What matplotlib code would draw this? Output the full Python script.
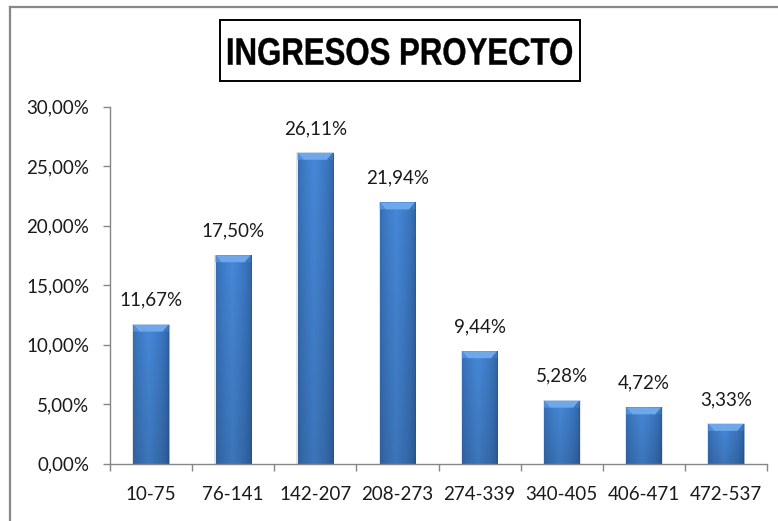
import matplotlib
matplotlib.use("Agg")
import matplotlib.pyplot as plt
import numpy as np
from matplotlib.patches import Rectangle, Polygon, PathPatch
from matplotlib.lines import Line2D
from matplotlib.textpath import TextPath
from matplotlib.font_manager import FontProperties
from matplotlib.transforms import Affine2D
from matplotlib.ticker import FixedLocator, FuncFormatter

# ── data (percent) ───────────────────────────────────────────────────────────
categories = ["10-75", "76-141", "142-207", "208-273",
              "274-339", "340-405", "406-471", "472-537"]
values     = [11.67, 17.50, 26.11, 21.94, 9.44, 5.28, 4.72, 3.33]
y_ticks    = [0, 5, 10, 15, 20, 25, 30]
title      = "INGRESOS PROYECTO"

W, H = 778, 521
fig = plt.figure(figsize=(W / 100, H / 100), dpi=100)

# axes placed in pixel terms to line up with the reference
x0, x1 = 110, 767
y0, y1 = 463.5, 106.5
ax = fig.add_axes([x0 / W, 1 - y0 / H, (x1 - x0) / W, (y0 - y1) / H])
ax.set_xlim(-0.5, len(categories) - 0.5)
ax.set_ylim(0, 30)

px_x = (len(categories)) / (x1 - x0)     # data units per pixel, x
px_y = 30 / (y0 - y1)                    # data units per pixel, y

label_font = ["Lato", "DejaVu Sans"]
grey = "#868686"

# ── bars with a cylinder-ish gradient and bevelled top ───────────────────────
BAR_W = 0.43
xs = np.arange(len(categories))
bars = ax.bar(xs, values, width=BAR_W, color="#3b78c4", zorder=2,
              edgecolor="#9fb4cf", linewidth=0.6)

dark  = np.array([0x2b, 0x5c, 0x9c]) / 255
light = np.array([0x46, 0x88, 0xd8]) / 255
u = np.linspace(0, 1, 60)
prof = np.clip(1 - np.abs(u - 0.45) / 0.55, 0, 1) ** 0.5      # horizontal shading
v = np.linspace(0, 1, 80)[:, None]                            # 0 = bottom row in image
grad = dark + (light - dark) * prof[None, :, None]
grad = grad * (0.86 + 0.14 * v[..., None])                    # a bit darker toward the base
grad = np.clip(grad, 0, 1)

for b in bars:
    bx, bw, bh = b.get_x(), b.get_width(), b.get_height()
    # soft shadow
    ax.add_patch(Rectangle((bx - 1.2 * px_x, -1 * px_y), bw + 2.4 * px_x, bh + 1.5 * px_y,
                           facecolor="#000000", alpha=0.10, lw=0, zorder=1.5))
    im = ax.imshow(grad, extent=[bx, bx + bw, 0, bh], origin="lower",
                   aspect="auto", zorder=2.1, interpolation="bilinear")
    im.set_clip_path(b)
    # bevel at the top
    bev_h = 7 * px_y
    ins = 6 * px_x
    ax.add_patch(Polygon([(bx, bh), (bx + bw, bh), (bx + bw - ins, bh - bev_h),
                          (bx + ins, bh - bev_h)], closed=True,
                         facecolor="#6ea8ea", edgecolor="none", zorder=2.2))
    ax.add_patch(Polygon([(bx, bh), (bx + ins, bh - bev_h), (bx, bh - bev_h)],
                         closed=True, facecolor="#4f8fdc", edgecolor="none", zorder=2.2))
    ax.add_patch(Polygon([(bx + bw, bh), (bx + bw - ins, bh - bev_h), (bx + bw, bh - bev_h)],
                         closed=True, facecolor="#3d77c0", edgecolor="none", zorder=2.2))

# value labels
for x, val in zip(xs, values):
    ax.annotate(f"{val:.2f}%".replace(".", ","), (x, val), xytext=(0, 17.5),
                textcoords="offset points", ha="center", va="center",
                fontsize=13.5, color="#1a1a1a", family=label_font)

# ── axes styling ─────────────────────────────────────────────────────────────
for side in ("top", "right"):
    ax.spines[side].set_visible(False)
for side in ("left", "bottom"):
    ax.spines[side].set_color(grey)
    ax.spines[side].set_linewidth(1.0)

ax.set_yticks(y_ticks)
ax.yaxis.set_major_formatter(FuncFormatter(lambda v, _: f"{v:.2f}%".replace(".", ",")))
ax.tick_params(axis="y", length=5, width=1, color=grey, pad=10,
               labelsize=13.5, labelcolor="#1a1a1a")

ax.set_xticks(xs)
ax.set_xticklabels(categories)
ax.xaxis.set_minor_locator(FixedLocator(np.arange(-0.5, len(categories), 1.0)))
ax.tick_params(axis="x", which="major", length=0, pad=16,
               labelsize=13.5, labelcolor="#1a1a1a")
ax.tick_params(axis="x", which="minor", length=5, width=1, color=grey)
for t in ax.get_xticklabels() + ax.get_yticklabels():
    t.set_family(label_font)

# ── chart frame (left + top only, rest is cropped) ───────────────────────────
fig.add_artist(Line2D([9.5 / W, 9.5 / W], [0, 1 - 6.5 / H], color="#888888",
                      lw=1.6, transform=fig.transFigure))
fig.add_artist(Line2D([9.5 / W, 1], [1 - 6.5 / H, 1 - 6.5 / H], color="#888888",
                      lw=1.6, transform=fig.transFigure))

# ── boxed title: bold text squeezed to the narrow look of the original ──────
fig.add_artist(Rectangle((220 / W, 1 - 81 / H), 360 / W, 61 / H, fill=False,
                         edgecolor="black", lw=1.4, transform=fig.transFigure))
tp = TextPath((0, 0), title, size=100,
              prop=FontProperties(family="Liberation Sans", weight="bold"))
ext = tp.get_extents()
tx0, tx1, ty_top, ty_bot = 228, 572, 38, 65          # target box of the glyphs, px
sx = (tx1 - tx0) / ext.width
sy = (ty_bot - ty_top) / ext.height
tr = (Affine2D().translate(-ext.x0, -ext.y0).scale(sx, sy)
      .translate(tx0, H - ty_bot).scale(1 / W, 1 / H) + fig.transFigure)
fig.add_artist(PathPatch(tp, facecolor="black", edgecolor="black", lw=0.3, transform=tr))

fig.savefig("out.png", dpi=100)
